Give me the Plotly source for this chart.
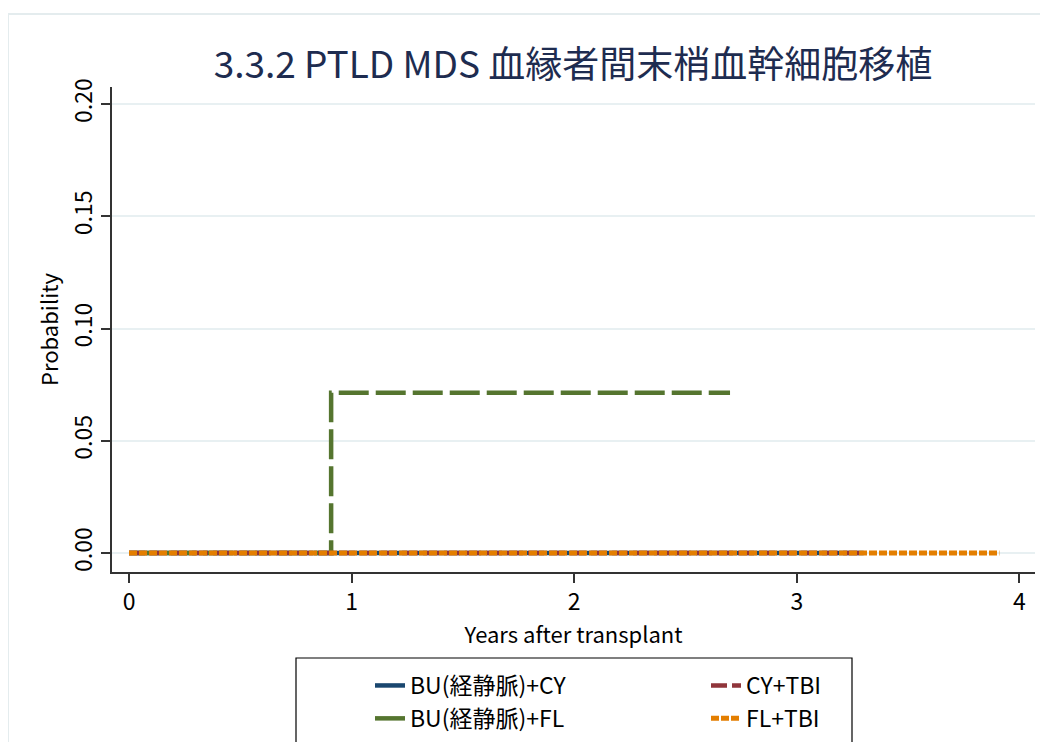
import plotly.graph_objects as go

# Data
bucy_t = [0.0, 3.30]
bucy_v = [0.0, 0.0]
bufl_t = [0.0, 0.908, 2.70]
bufl_v = [0.0, 0.0714, 0.0714]
cytbi_t = [0.0, 3.30]
cytbi_v = [0.0, 0.0]
fltbi_t = [0.0, 3.91]
fltbi_v = [0.0, 0.0]

names = ["BU(経静脈)+CY", "BU(経静脈)+FL", "CY+TBI", "FL+TBI"]
xticks = [0, 1, 2, 3, 4]
yticks = [0.0, 0.05, 0.10, 0.15, 0.20]
ytick_text = ["0.00", "0.05", "0.10", "0.15", "0.20"]

FONT = "Noto Sans CJK JP"

fig = go.Figure()
fig.add_trace(go.Scatter(x=bucy_t, y=bucy_v, mode="lines", name=names[0], line_shape="hv",
                         line=dict(color="#1a476f", width=4.5), legend="legend"))
fig.add_trace(go.Scatter(x=bufl_t, y=bufl_v, mode="lines", name=names[1], line_shape="hv",
                         line=dict(color="#55752f", width=4.5, dash="30px,7px"), legend="legend"))
fig.add_trace(go.Scatter(x=cytbi_t, y=cytbi_v, mode="lines", name=names[2], line_shape="hv",
                         line=dict(color="#90353b", width=4.5, dash="16px,5px"), legend="legend2"))
fig.add_trace(go.Scatter(x=fltbi_t, y=fltbi_v, mode="lines", name=names[3], line_shape="hv",
                         line=dict(color="#e37e00", width=5, dash="8px,2px"), legend="legend2"))

OFF = 8  # page body margin
W, H = 1040, 734
ml = 112 - OFF
mt = 87 - OFF
mr = W - (1035 - OFF)
mb = H - (572 - OFF)
pw, ph = W - ml - mr, H - mt - mb


def px_x(p):  # page px -> paper x
    return (p - OFF - ml) / pw


def px_y(p):  # page px -> paper y
    return ((H - mb) - (p - OFF)) / ph


# outer light frame
fig.add_shape(type="rect", xref="paper", yref="paper",
              x0=px_x(8), x1=px_x(1060), y0=px_y(760), y1=px_y(14),
              line=dict(color="#e4ecee", width=2), fillcolor="rgba(0,0,0,0)", layer="below")
# legend frame
fig.add_shape(type="rect", xref="paper", yref="paper",
              x0=px_x(296), x1=px_x(852), y0=px_y(760), y1=px_y(658),
              line=dict(color="black", width=1.2), fillcolor="white", layer="below")

leg_common = dict(yanchor="top", xanchor="left", bgcolor="rgba(0,0,0,0)", borderwidth=0,
                  font=dict(size=23, family=FONT), traceorder="normal", tracegroupgap=0,
                  orientation="v")

fig.update_layout(
    width=W, height=H,
    margin=dict(l=ml, r=mr, t=mt, b=mb, autoexpand=False),
    paper_bgcolor="white", plot_bgcolor="white",
    font=dict(family=FONT, color="black", size=22),
    title=dict(text="3.3.2 PTLD MDS 血縁者間末梢血幹細胞移植", x=(573 - OFF) / W, xanchor="center",
               y=1 - (65 - OFF) / H, yanchor="middle", font=dict(size=37, color="#1e2c50", family=FONT)),
    showlegend=True,
    legend=dict(x=px_x(370), y=px_y(664), **leg_common),
    legend2=dict(x=px_x(706), y=px_y(664), **leg_common),
)

fig.update_xaxes(range=[-0.0764, 4.07], tickvals=xticks, ticks="outside", ticklen=9, tickwidth=1.5,
                 tickcolor="#333", showline=True, linecolor="#333", linewidth=1.5, showgrid=False,
                 zeroline=False, automargin=False,
                 title=dict(text="Years after transplant", font=dict(size=22), standoff=0),
                 tickfont=dict(size=23))
fig.update_yaxes(range=[-0.00846, 0.2076], tickvals=yticks, ticktext=ytick_text, tickangle=-90,
                 ticks="outside", ticklen=9, tickwidth=1.5, tickcolor="#333",
                 showline=True, linecolor="#333", linewidth=1.5, showgrid=True, gridcolor="#e8f0f2",
                 gridwidth=1.5, zeroline=False, automargin=False,
                 title=dict(text="Probability", font=dict(size=22), standoff=0),
                 tickfont=dict(size=23))

fig.write_html("out.html")
